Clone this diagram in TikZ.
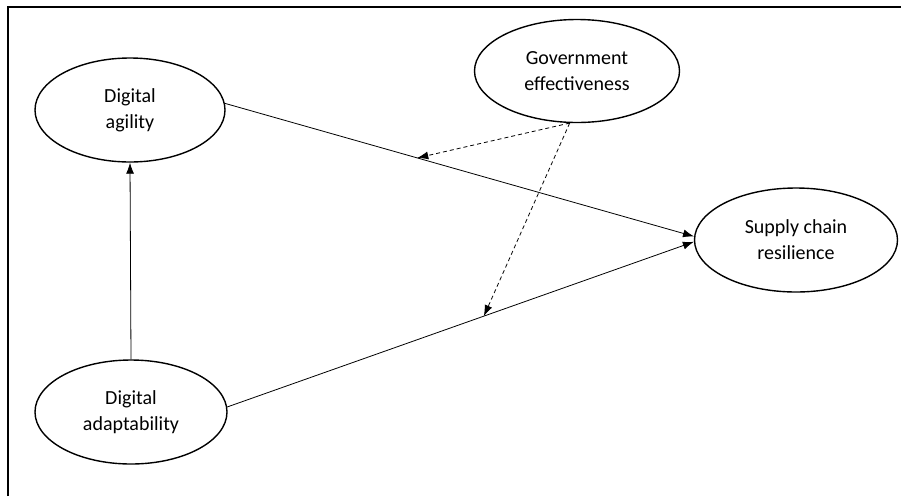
\documentclass[tikz,border=0pt]{standalone}
\usepackage{fontspec}
\setmainfont{Carlito}
\usetikzlibrary{shapes.geometric,arrows.meta,positioning}

\begin{document}
\begin{tikzpicture}[x=1pt,y=-1pt,
						construct/.style={draw, ellipse, line width=1.4pt, inner sep=0pt, align=center, font=\fontsize{20}{26}\selectfont},
						link/.style={->, line width=0.8pt},
						moderate/.style={->, line width=0.8pt, dash pattern=on 4pt off 3pt},
						>={Latex[length=11pt,width=8pt]}]
					\useasboundingbox (0,0) rectangle (901,496);
					\draw[line width=2pt] (8,496) -- (8,7) -- (901,7);

					\node[construct, minimum width=190pt, minimum height=104pt] (agil) at (130,110) {Digital\\agility};
					\node[construct, minimum width=192pt, minimum height=104pt] (adap) at (131,412) {Digital\\adaptability};
					\node[construct, minimum width=205pt, minimum height=103pt] (gov) at (577,71) {Government\\effectiveness};
					\node[construct, minimum width=203pt, minimum height=104pt] (supp) at (796,240) {Supply chain\\resilience};

					\draw[link] (adap.north) -- (agil.south);
					\draw[link] (agil.4) -- coordinate[pos=0.41] (mA) (supp.178);
					\draw[link] (adap.3) -- coordinate[pos=0.55] (mB) (supp.181);

					\draw[moderate] (gov.262) -- (mA);
					\draw[moderate] (gov.262) -- (mB);
				\end{tikzpicture}
\end{document}
